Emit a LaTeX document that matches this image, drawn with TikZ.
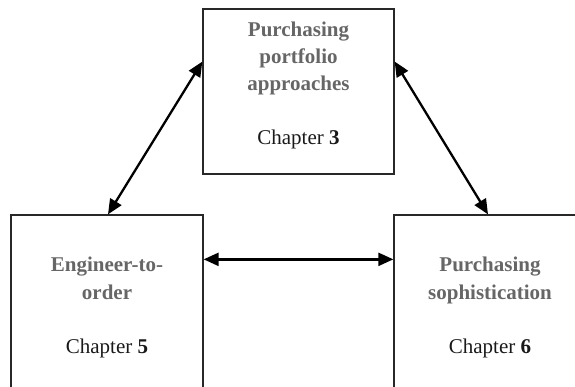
\documentclass[tikz,border=0pt]{standalone}
\usepackage{fontspec}
\setmainfont{Liberation Serif}
\usetikzlibrary{calc,arrows.meta}
\definecolor{titlegray}{RGB}{102,102,102}
\definecolor{chaptext}{RGB}{25,25,25}
\definecolor{boxline}{RGB}{40,40,40}
\begin{document}
\begin{tikzpicture}[x=1pt,y=-1pt,
  topicbox/.style={draw=boxline,line width=1.3pt,rectangle,inner sep=0pt},
  title/.style={text=titlegray,font=\fontsize{21}{27}\selectfont\bfseries,align=center,anchor=base,inner sep=0pt},
  chap/.style={text=chaptext,font=\fontsize{21}{27}\selectfont,anchor=base,inner sep=0pt},
  link/.style={line width=2.3pt,black,{Triangle[length=15pt,width=13pt]}-{Triangle[length=15pt,width=13pt]}}]
\useasboundingbox (0,0) rectangle (575,387);
\clip (0,0) rectangle (575,387);

% three topic boxes
\node[topicbox,minimum width=191pt,minimum height=165pt] (top) at (298.5,91.5) {};
\node[topicbox,minimum width=192pt,minimum height=185pt] (eto) at (107,307.5) {};
\node[topicbox,minimum width=192pt,minimum height=185pt] (soph) at (490,307.5) {};

% box texts
\node[title] (topt1) at (298.5,37) {Purchasing};
\node[title] (topt2) at (298.5,64) {portfolio};
\node[title] (topt3) at (298.5,91) {approaches};
\node[chap] (topc) at (298.5,145) {Chapter \textbf{3}};

\node[title] (etot1) at (107,271) {Engineer-to-};
\node[title] (etot2) at (107,299) {order};
\node[chap] (etoc) at (107,353) {Chapter \textbf{5}};

\node[title] (sopht1) at (490,271) {Purchasing};
\node[title] (sopht2) at (490,299) {sophistication};
\node[chap] (sophc) at (490,353) {Chapter \textbf{6}};

% connectors
\coordinate (topL) at ($(top.north west)!0.32!(top.south west)$);
\coordinate (topR) at ($(top.north east)!0.32!(top.south east)$);
\coordinate (etoR) at ($(eto.north east)+(0,45)$);
\coordinate (sophL) at ($(soph.north west)+(0,45)$);
\draw[link] ($(eto.north)+(1,0)$) -- (topL);
\draw[link] (topR) -- ($(soph.north)+(-2,0)$);
\draw[link] (etoR) -- (sophL);
\end{tikzpicture}
\end{document}
